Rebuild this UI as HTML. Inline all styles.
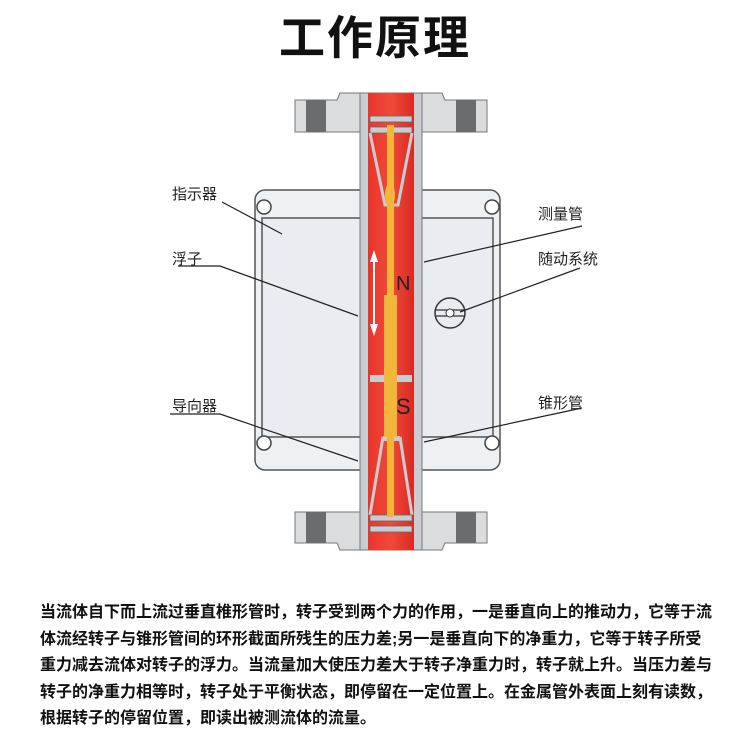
<!DOCTYPE html>
<html><head><meta charset="utf-8"><style>
body{margin:0;width:750px;height:750px;background:#fff;overflow:hidden;position:relative;font-family:"Liberation Sans","Noto Sans CJK SC",sans-serif}
.t{position:absolute;left:0;width:750px;top:2px;text-align:center;font-size:46px;font-weight:bold;color:#111;letter-spacing:2px}
.l{position:absolute;font-size:15px;color:#222}
.p{position:absolute;left:40px;top:600px;width:710px;font-size:16px;font-weight:bold;line-height:26.5px;color:#111;white-space:nowrap}
</style></head><body>
<div class="t">工作原理</div>
<svg width="750" height="600" style="position:absolute;left:0;top:0">
<defs><linearGradient id="r" x1="0" x2="1"><stop offset="0" stop-color="#e8352a"/><stop offset=".5" stop-color="#f04a3a"/><stop offset="1" stop-color="#d92a22"/></linearGradient></defs>
<rect x="255" y="190" width="245" height="280" rx="10" fill="#eef1f4" stroke="#555" stroke-width="1.5"/>
<rect x="262" y="218" width="231" height="219" fill="#e9edf1" stroke="#555" stroke-width="1.5"/>
<circle cx="264" cy="207" r="7" fill="#fff" stroke="#444" stroke-width="1.5"/>
<circle cx="492" cy="207" r="7" fill="#fff" stroke="#444" stroke-width="1.5"/>
<circle cx="264" cy="443" r="7" fill="#fff" stroke="#444" stroke-width="1.5"/>
<circle cx="492" cy="443" r="7" fill="#fff" stroke="#444" stroke-width="1.5"/>
<path d="M295 100 H337 L340 93 H442 L445 100 H487 V132 H295Z" fill="#dadcde" stroke="#777"/>
<rect x="306" y="100" width="20" height="32" fill="#6a6c6e"/><rect x="456" y="100" width="20" height="32" fill="#6a6c6e"/>
<path d="M295 512 H487 V543 H445 L442 550 H340 L337 543 H295Z" fill="#dadcde" stroke="#777"/>
<rect x="306" y="512" width="20" height="31" fill="#6a6c6e"/><rect x="456" y="512" width="20" height="31" fill="#6a6c6e"/>
<rect x="360" y="93" width="62" height="457" fill="#c9ccd0" stroke="#777"/>
<rect x="368" y="93" width="46" height="457" fill="url(#r)"/>
<rect x="370" y="116" width="42" height="6" fill="#c9ccd0" stroke="#666" stroke-width=".8"/>
<rect x="370" y="127" width="42" height="6" fill="#c9ccd0" stroke="#666" stroke-width=".8"/>
<path d="M370 133 L385 205 H398 L412 133" fill="none" stroke="#c9ccd0" stroke-width="3"/>
<rect x="370" y="375" width="42" height="7" fill="#c9ccd0"/>
<path d="M383 437 L370 515 M400 437 L412 515" stroke="#c9ccd0" stroke-width="3"/>
<rect x="383" y="436" width="17" height="5" fill="#c9ccd0"/>
<rect x="370" y="515" width="42" height="6" fill="#c9ccd0" stroke="#666" stroke-width=".8"/>
<rect x="370" y="526" width="42" height="6" fill="#c9ccd0" stroke="#666" stroke-width=".8"/>
<rect x="387" y="125" width="7" height="175" fill="#f2b63a"/>
<ellipse cx="390" cy="195" rx="5" ry="12" fill="#f2b63a"/>
<rect x="384" y="295" width="13" height="142" fill="#f2b63a"/>
<rect x="387" y="437" width="7" height="80" fill="#f2b63a"/>
<path d="M374 254 V332" stroke="#fff" stroke-width="2"/>
<path d="M370 262 L374 250 L378 262Z M370 324 L374 336 L378 324Z" fill="#fff"/>
<text x="396" y="290" font-size="20" fill="#222" font-family="Liberation Sans">N</text>
<text x="396" y="414" font-size="22" fill="#222" font-family="Liberation Sans">S</text>
<circle cx="450" cy="313" r="15" fill="none" stroke="#333" stroke-width="1.5"/>
<path d="M435 310 H465 M435 316 H465" stroke="#333" stroke-width="1.3"/>
<circle cx="450" cy="313" r="4" fill="#fff" stroke="#333"/>
<g stroke="#222" stroke-width="1.2" fill="none">
<path d="M222 202 L282 234"/>
<path d="M178 266 H220 L358 316"/>
<path d="M170 414 H220 L358 461"/>
<path d="M582 226 L424 262"/>
<path d="M580 268 L460 312"/>
<path d="M582 408 L424 442"/>
</g>
</svg>
<div class="l" style="left:172px;top:183px">指示器</div>
<div class="l" style="left:172px;top:248px">浮子</div>
<div class="l" style="left:172px;top:395px">导向器</div>
<div class="l" style="left:538px;top:203px">测量管</div>
<div class="l" style="left:538px;top:248px">随动系统</div>
<div class="l" style="left:538px;top:392px">锥形管</div>
<div class="p">当流体自下而上流过垂直椎形管时，转子受到两个力的作用，一是垂直向上的推动力，它等于流<br>体流经转子与锥形管间的环形截面所残生的压力差;另一是垂直向下的净重力，它等于转子所受<br>重力减去流体对转子的浮力。当流量加大使压力差大于转子净重力时，转子就上升。当压力差与<br>转子的净重力相等时，转子处于平衡状态，即停留在一定位置上。在金属管外表面上刻有读数，<br>根据转子的停留位置，即读出被测流体的流量。</div>
</body></html>
